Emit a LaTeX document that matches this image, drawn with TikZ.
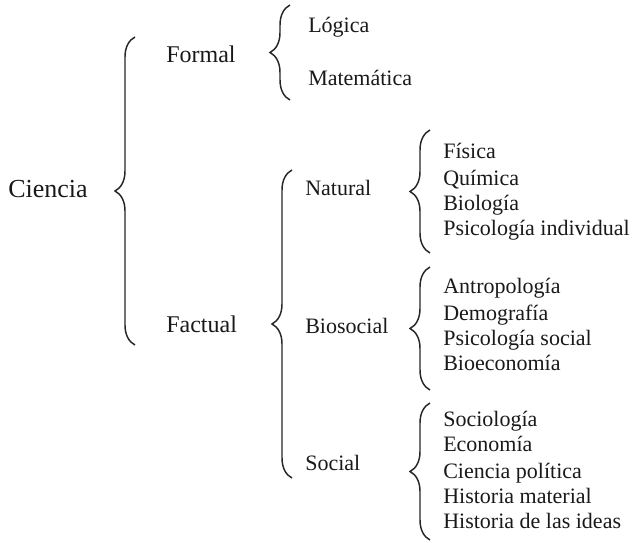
\documentclass[tikz,border=0pt]{standalone}
\usepackage{fontspec}
\setmainfont{Liberation Serif}
\usetikzlibrary{decorations.pathreplacing}

\begin{document}
\begin{tikzpicture}[x=0.75pt, y=-0.75pt,
		root_style/.style={anchor=base west,inner sep=0pt,text=black!90,font=\fontsize{19.5}{22}\selectfont},
		main_style/.style={anchor=base west,inner sep=0pt,text=black!90,font=\fontsize{18}{22}\selectfont},
		sub_style/.style={anchor=base west,inner sep=0pt,text=black!90,font=\fontsize{16.5}{20}\selectfont},
		leaf_style/.style={anchor=base west,inner sep=0pt,text=black!90,font=\fontsize{16.5}{20}\selectfont},
		brace_style/.style={draw=black!85,line width=1.1pt,decorate,decoration={brace,amplitude=15pt}}]

	\useasboundingbox (0,0) rectangle (634,542);

	\node[root_style] (n0) at (8,197)  {Ciencia};
		\node[main_style] (n1) at (166,63)  {Formal};
		\node[main_style] (n2) at (166,332)  {Factual};
		\node[leaf_style] (n3) at (308,33)  {Lógica};
		\node[leaf_style] (n4) at (308,85)  {Matemática};
		\node[sub_style] (n5) at (305,195)  {Natural};
		\node[sub_style] (n6) at (305,333)  {Biosocial};
		\node[sub_style] (n7) at (305,470)  {Social};
		\node[leaf_style] (n8) at (443,158)  {Física};
		\node[leaf_style] (n9) at (443,185)  {Química};
		\node[leaf_style] (n10) at (443,210)  {Biología};
		\node[leaf_style] (n11) at (443,235)  {Psicología individual};
		\node[leaf_style] (n12) at (443,293)  {Antropología};
		\node[leaf_style] (n13) at (443,320)  {Demografía};
		\node[leaf_style] (n14) at (443,345)  {Psicología social};
		\node[leaf_style] (n15) at (443,370)  {Bioeconomía};
		\node[leaf_style] (n16) at (443,426)  {Sociología};
		\node[leaf_style] (n17) at (443,451)  {Economía};
		\node[leaf_style] (n18) at (443,478)  {Ciencia política};
		\node[leaf_style] (n19) at (443,503)  {Historia material};
		\node[leaf_style] (n20) at (443,528)  {Historia de las ideas};

	% brace ends
	\coordinate (b0t) at (135,37);  \coordinate (b0b) at (135,345);
	\coordinate (b1t) at (290,5);   \coordinate (b1b) at (290,100);
	\coordinate (b2t) at (292,170); \coordinate (b2b) at (292,478);
	\coordinate (b3t) at (430,130); \coordinate (b3b) at (430,253);
	\coordinate (b4t) at (430,267); \coordinate (b4b) at (430,390);
	\coordinate (b5t) at (430,403); \coordinate (b5b) at (430,540);

	    \draw[brace_style]  (b0b) -- (b0t);
    	\draw[brace_style]  (b1b) -- (b1t);
    	\draw[brace_style]  (b2b) -- (b2t);
    	\draw[brace_style]  (b3b) -- (b3t);
    	\draw[brace_style]  (b4b) -- (b4t);
    	\draw[brace_style]  (b5b) -- (b5t);
		\end{tikzpicture}
\end{document}
